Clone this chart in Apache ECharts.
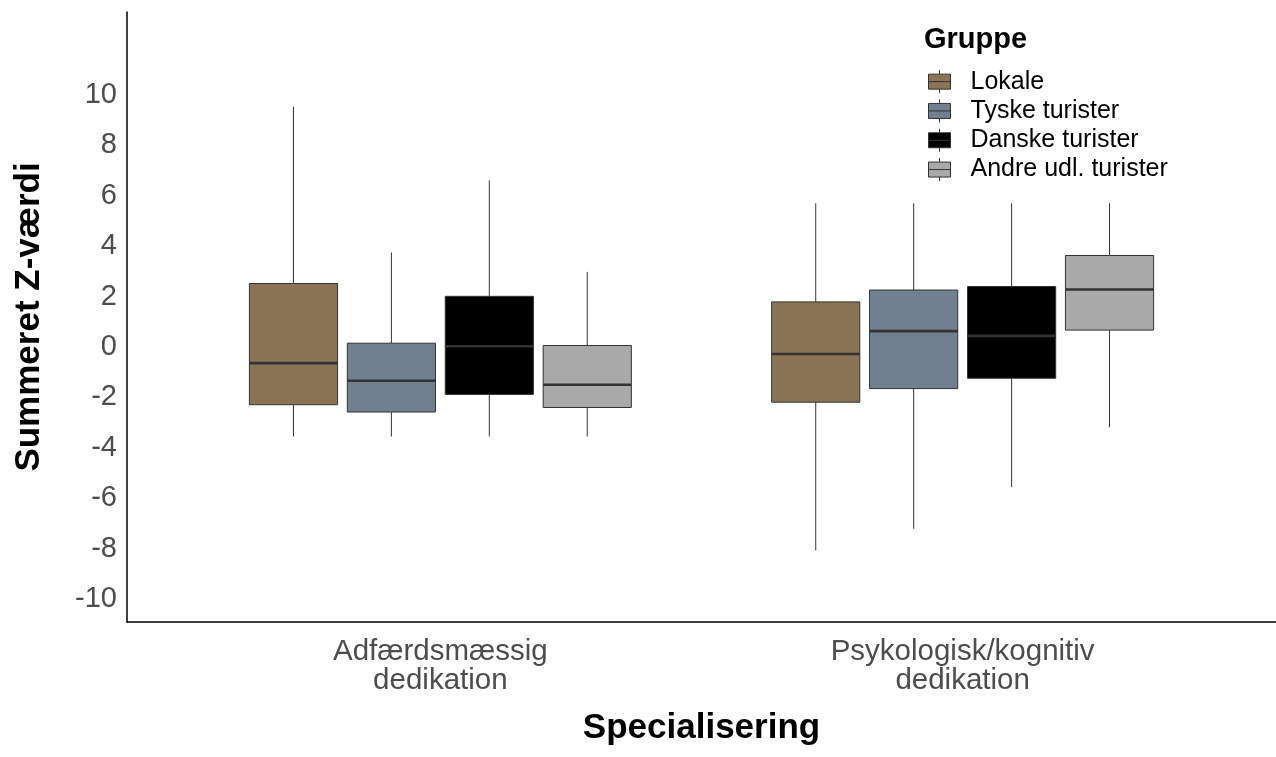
<!DOCTYPE html>
<html>
<head>
<meta charset="utf-8">
<script src="https://cdn.jsdelivr.net/npm/echarts@6/dist/echarts.min.js"></script>
<style>
html,body{margin:0;padding:0;background:#fff;}
#chart{width:1276px;height:757px;}
</style>
</head>
<body>
<div id="chart"></div>
<script>
// ---- data ----
const categories = ['Adfærdsmæssig\ndedikation', 'Psykologisk/kognitiv\ndedikation'];
const groups = ['Lokale', 'Tyske turister', 'Danske turister', 'Andre udl. turister'];
const groupColors = ['#8B7355', '#708090', '#000000', '#A9A9A9'];
// per category: [lower whisker, Q1, median, Q3, upper whisker]
const lokale = [[-3.69, -2.43, -0.78, 2.38, 9.39], [-8.21, -2.33, -0.42, 1.65, 5.56]];
const tyske  = [[-3.69, -2.72, -1.48, 0.01, 3.61], [-7.35, -1.79, 0.49, 2.12, 5.56]];
const danske = [[-3.69, -2.02, -0.11, 1.87, 6.47], [-5.70, -1.38, 0.30, 2.26, 5.56]];
const andre  = [[-3.69, -2.54, -1.64, -0.08, 2.84], [-3.32, 0.53, 2.14, 3.49, 5.56]];
const yTicks = [-10, -8, -6, -4, -2, 0, 2, 4, 6, 8, 10];
const xTicks = [1, 2];

const groupData = [lokale, tyske, danske, andre];
const FONT = '"Liberation Sans", Arial, Helvetica, sans-serif';
const slot = 0.1875, halfW = 0.0844;

function renderBox(params, api) {
  const g = params.seriesIndex;
  const xc = api.value(0) + (g - 1.5) * slot;
  const low = api.coord([xc, api.value(1)]);
  const q1 = api.coord([xc, api.value(2)]);
  const med = api.value(3);
  const q3 = api.coord([xc, api.value(4)]);
  const high = api.coord([xc, api.value(5)]);
  const l = api.coord([xc - halfW, med]);
  const r = api.coord([xc + halfW, med]);
  const lineStyle = { stroke: '#333333', lineWidth: 1 };
  return {
    type: 'group',
    children: [
      { type: 'line', shape: { x1: high[0], y1: high[1], x2: q3[0], y2: q3[1] }, style: lineStyle },
      { type: 'line', shape: { x1: q1[0], y1: q1[1], x2: low[0], y2: low[1] }, style: lineStyle },
      { type: 'rect', shape: { x: l[0], y: q3[1], width: r[0] - l[0], height: q1[1] - q3[1] },
        style: { fill: groupColors[g], stroke: '#333333', lineWidth: 1 } },
      { type: 'line', shape: { x1: l[0], y1: l[1], x2: r[0], y2: r[1] },
        style: { stroke: '#333333', lineWidth: 2.6 } }
    ]
  };
}

const series = groups.map((name, g) => ({
  name: name,
  type: 'custom',
  renderItem: renderBox,
  itemStyle: { color: groupColors[g] },
  encode: { x: 0, y: [1, 2, 3, 4, 5] },
  data: groupData[g].map((v, i) => [xTicks[i]].concat(v))
}));

const legendIcon = 'path://M11,0L11,4M0,4L22,4L22,19L0,19ZM0,11.5L22,11.5M11,19L11,23';

const option = {
  animation: false,
  color: groupColors,
  textStyle: { fontFamily: FONT },
  title: {
    text: 'Gruppe',
    left: 924, top: 25, padding: 0,
    textStyle: { fontFamily: FONT, fontSize: 29, fontWeight: 'bold', color: '#000' }
  },
  legend: {
    orient: 'vertical',
    left: 923, top: 62,
    itemWidth: 22, itemHeight: 23, itemGap: 0,
    data: groups.map(n => ({ name: n, icon: legendIcon })),
    itemStyle: { borderColor: '#333333', borderWidth: 1 },
    textStyle: { fontFamily: FONT, fontSize: 25, color: '#000', lineHeight: 22.3, padding: [7, 0, 0, 15] },
    selectedMode: false
  },
  grid: { left: 127, right: 0, top: 12, bottom: 135, containLabel: false },
  xAxis: {
    type: 'value',
    min: 0.4, max: 2.6,
    name: 'Specialisering',
    nameLocation: 'middle',
    nameGap: 89,
    nameTextStyle: { fontFamily: FONT, fontSize: 35, fontWeight: 'bold', color: '#000' },
    axisLine: { show: true, onZero: false, lineStyle: { color: '#000', width: 1.5 } },
    axisTick: { show: false },
    splitLine: { show: false },
    axisLabel: {
      customValues: xTicks,
      formatter: v => categories[Math.round(v) - 1] || '',
      fontFamily: FONT, fontSize: 29.5, color: '#4D4D4D', lineHeight: 29, margin: 15
    }
  },
  yAxis: {
    type: 'value',
    min: -11.05, max: 13.15,
    name: 'Summeret Z-værdi',
    nameLocation: 'middle',
    nameGap: 80,
    nameTextStyle: { fontFamily: FONT, fontSize: 35, fontWeight: 'bold', color: '#000' },
    axisLine: { show: true, onZero: false, lineStyle: { color: '#000', width: 1.5 } },
    axisTick: { show: false },
    splitLine: { show: false },
    axisLabel: {
      customValues: yTicks,
      fontFamily: FONT, fontSize: 29, color: '#4D4D4D', margin: 10,
      verticalAlign: 'top', lineHeight: 7
    }
  },
  series: series
};

const chart = echarts.init(document.getElementById('chart'), null, { renderer: 'canvas' });
chart.setOption(option);
</script>
</body>
</html>
